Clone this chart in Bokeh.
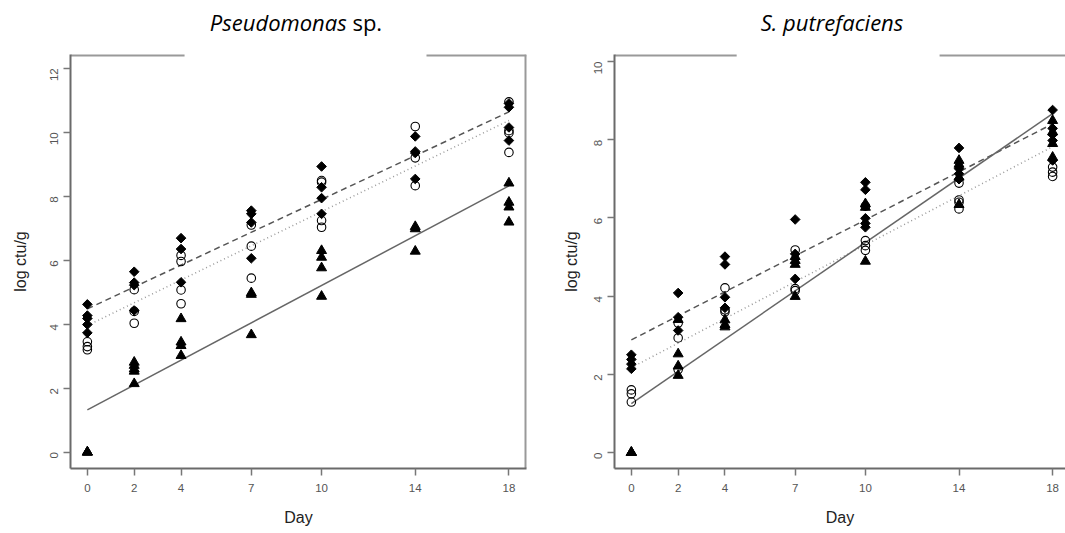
from bokeh.plotting import figure
from bokeh.layouts import row, column
from bokeh.models import FixedTicker, Range1d, Div
from bokeh.embed import file_html
from bokeh.resources import INLINE
import numpy as np

days = [0, 2, 4, 7, 10, 14, 18]
x_ticks = [0, 2, 4, 7, 10, 14, 18]
ps_y_ticks = [0, 2, 4, 6, 8, 10, 12]
sp_y_ticks = [0, 2, 4, 6, 8, 10]

# ---- Pseudomonas sp. (values per day, same order as `days`) ----
ps_diamond = [[4.62, 4.27, 4.18, 3.99, 3.73], [5.64, 5.30, 5.22, 4.43], [6.69, 6.35, 5.31],
              [7.55, 7.45, 7.18, 6.06], [8.93, 8.28, 7.94, 7.45], [9.87, 9.40, 9.35, 8.54],
              [10.90, 10.78, 10.15, 9.74]]
ps_circle = [[3.45, 3.30, 3.20], [5.08, 4.40, 4.03], [6.15, 5.96, 5.07, 4.64],
             [7.10, 6.44, 5.44], [8.49, 8.44, 7.24, 7.03], [10.18, 9.20, 8.33],
             [10.95, 10.05, 9.98, 9.37]]
ps_triangle = [[0.0, 0.0, 0.0], [2.81, 2.71, 2.60, 2.53, 2.14], [4.17, 3.44, 3.33, 3.02],
               [4.98, 4.93, 3.67], [6.30, 6.09, 5.76, 4.87], [7.05, 6.98, 6.28],
               [8.41, 7.81, 7.66, 7.19]]
# fitted lines: (intercept, slope)
ps_fit_dashed = (4.48, 0.342)
ps_fit_dotted = (3.96, 0.356)
ps_fit_solid = (1.32, 0.389)

# ---- S. putrefaciens ----
sp_diamond = [[2.50, 2.38, 2.26, 2.14], [4.08, 3.46, 3.12], [5.01, 4.81, 3.97, 3.70],
              [5.96, 5.08, 4.44], [6.91, 6.72, 5.99, 5.86, 5.76], [7.79, 7.26, 7.13, 6.99],
              [8.76, 8.29, 8.13, 7.98, 7.47]]
sp_circle = [[1.60, 1.50, 1.29], [3.31, 2.93, 2.12], [4.21, 3.65, 3.60],
             [5.18, 4.19, 4.14], [6.30, 5.42, 5.29, 5.17], [6.89, 6.46, 6.40, 6.23],
             [7.30, 7.17, 7.06]]
sp_triangle = [[0.0, 0.0, 0.0], [3.40, 2.52, 2.21, 1.97], [3.39, 3.27, 3.21],
               [5.01, 4.91, 4.81, 3.99], [6.36, 6.27, 4.89], [7.47, 7.37, 7.04, 6.34],
               [8.49, 8.20, 7.90, 7.55]]
sp_fit_dashed = (2.88, 0.307)
sp_fit_dotted = (2.17, 0.314)
sp_fit_solid = (1.25, 0.412)

FONT = "Liberation Sans"


def flatten(groups):
    xs, ys = [], []
    for d, vals in zip(days, groups):
        for v in vals:
            xs.append(d)
            ys.append(v)
    return xs, ys


def make_panel(diamond, circle, triangle, fits, y_ticks, xr, yr, width, min_left, min_right,
               gap, right_line, ylab_standoff):
    p = figure(width=width, height=487, output_backend="svg", toolbar_location=None,
               x_range=Range1d(*xr), y_range=Range1d(*yr),
               min_border_left=min_left, min_border_right=min_right,
               min_border_top=8, min_border_bottom=65)
    p.outline_line_color = None
    p.grid.visible = False
    p.background_fill_color = "white"

    for ax in (p.xaxis[0], p.yaxis[0]):
        ax.axis_line_color = "#6a6a6a"
        ax.axis_line_width = 2
        ax.major_tick_line_color = "#777777"
        ax.major_tick_line_width = 1.5
        ax.major_tick_out = 7
        ax.major_tick_in = 0
        ax.minor_tick_line_color = None
        ax.major_label_text_font = FONT
        ax.major_label_text_font_size = "11.5px"
        ax.major_label_text_color = "#555555"
        ax.axis_label_text_font = FONT
        ax.axis_label_text_font_size = "16px"
        ax.axis_label_text_font_style = "normal"
        ax.axis_label_text_color = "#222222"

    p.xaxis.ticker = FixedTicker(ticks=x_ticks)
    p.xaxis.major_label_standoff = 8
    p.xaxis.axis_label = "Day"
    p.xaxis.axis_label_standoff = 14

    p.yaxis.ticker = FixedTicker(ticks=y_ticks)
    p.yaxis.major_label_orientation = np.pi / 2
    p.yaxis.major_label_standoff = 9
    p.yaxis.axis_label = "log ctu/g"
    p.yaxis.axis_label_standoff = ylab_standoff

    # box (top with gap, right side)
    x0, x1 = xr
    y1 = yr[1]
    p.segment(x0=[x0, gap[1]], y0=[y1, y1], x1=[gap[0], x1], y1=[y1, y1],
              line_color="#999999", line_width=4)
    if right_line:
        p.segment(x0=[x1], y0=[yr[0]], x1=[x1], y1=[y1], line_color="#999999", line_width=4)

    # fitted lines
    styles = [("#555555", "6 4"), ("#999999", "1 3"), ("#666666", "solid")]
    for (a, b), (col, dash) in zip(fits, styles):
        lx = [days[0], days[-1]]
        ly = [a + b * v for v in lx]
        p.line(lx, ly, line_color=col, line_dash=dash, line_width=1.5)

    dx, dy = flatten(diamond)
    p.scatter(dx, dy, marker="square", angle=np.pi / 4, size=6.8,
              fill_color="black", line_color="black")
    cx, cy = flatten(circle)
    p.scatter(cx, cy, marker="circle", size=8.5, fill_color=None,
              line_color="black", line_width=1.1)
    tx, ty = flatten(triangle)
    p.scatter(tx, ty, marker="triangle", size=10, fill_color="black", line_color="black")
    return p


left = make_panel(ps_diamond, ps_circle, ps_triangle,
                  [ps_fit_dashed, ps_fit_dotted, ps_fit_solid], ps_y_ticks,
                  (-0.72, 18.75), (-0.51, 12.43), 554, 70, 28, (4.15, 14.48), True, 15)
right = make_panel(sp_diamond, sp_circle, sp_triangle,
                   [sp_fit_dashed, sp_fit_dotted, sp_fit_solid], sp_y_ticks,
                   (-0.72, 18.55), (-0.41, 10.18), 511, 60, 0, (4.50, 13.17), False, 8)

title_html = (
    '<div style="position:relative;width:1065px;height:46px;'
    'font-family:\'Open Sans\';font-size:22px;color:black;">'
    '<span style="position:absolute;left:0px;top:7px;width:592px;text-align:center;'
    'white-space:nowrap;"><i>Pseudomonas</i> sp.</span>'
    '<span style="position:absolute;left:599px;top:7px;width:466px;text-align:center;'
    'white-space:nowrap;"><i>S. putrefaciens</i></span>'
    '</div>'
)
titles = Div(text=title_html, width=1065, height=46, margin=(0, 0, 0, 0))

layout = column(titles, row(left, right))
open("out.html", "w").write(file_html(layout, INLINE))
